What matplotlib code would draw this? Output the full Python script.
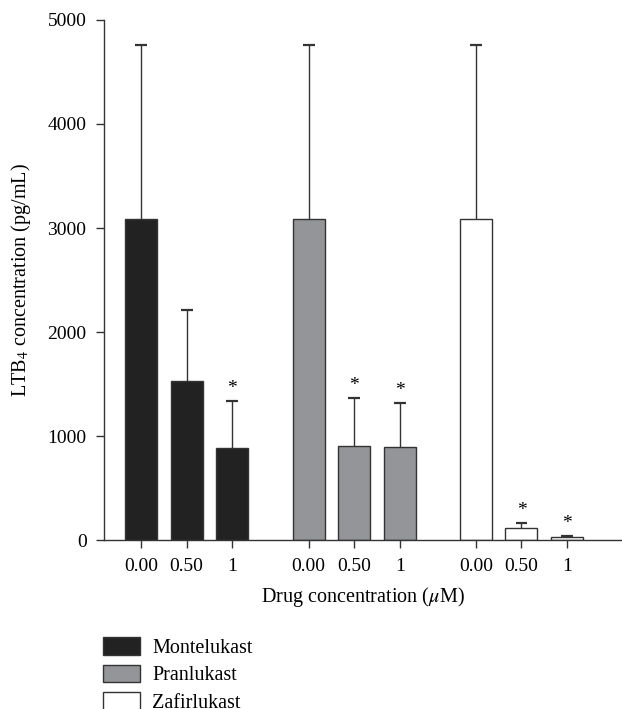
import numpy as np
from matplotlib import pyplot as plt
from matplotlib.patches import Patch

plt.rcParams['font.family'] = ['Liberation Serif', 'DejaVu Serif']
plt.rcParams['mathtext.fontset'] = 'stix'

# donnees
drugs = ['Montelukast', 'Pranlukast', 'Zafirlukast']
doses = ['0.00', '0.50', '1']
montelukast = [3090, 1530, 885]
montelukast_err = [1670, 680, 450]
pranlukast = [3090, 908, 898]
pranlukast_err = [1670, 455, 422]
zafirlukast = [3090, 118, 35]
zafirlukast_err = [1670, 50, 8]
signif = [[False, False, True], [False, True, True], [False, True, True]]

couleurs = ['#222222', '#939598', '#ffffff']
pos_groupes = [0, 3.67, 7.33]
largeur = 0.70
demi_cap = 0.13

fig = plt.figure(figsize=(6.22, 7.09), dpi=100)
ax = fig.add_axes([0.167, 0.238, 0.833, 0.734])

series = [(montelukast, montelukast_err), (pranlukast, pranlukast_err), (zafirlukast, zafirlukast_err)]
xt = []
xl = []
for g, (vals, errs) in enumerate(series):
    x = pos_groupes[g] + np.arange(len(doses))
    vals = np.array(vals)
    haut = vals + np.array(errs)
    ax.bar(x, vals, width=largeur, color=couleurs[g], edgecolor='#333333', linewidth=1.0, zorder=2)
    # barres d'erreur vers le haut seulement
    ax.vlines(x, vals, haut, color='#333333', linewidth=1.0, zorder=1)
    ax.hlines(haut, x - demi_cap, x + demi_cap, color='#333333', linewidth=1.6, zorder=1)
    for i in range(len(doses)):
        if signif[g][i]:
            ax.text(x[i], haut[i] + 40, '*', ha='center', va='bottom', fontsize=14)
    xt += list(x)
    xl += doses

ax.set_xticks(xt)
ax.set_xticklabels(xl)
ax.set_ylim(0, 5000)
ax.set_xlim(-0.81, 10.53)
ax.set_yticks([0, 1000, 2000, 3000, 4000, 5000])
ax.tick_params(axis='both', direction='out', length=6, width=1.0, color='#333333', labelsize=14)
ax.tick_params(axis='x', pad=7)
ax.tick_params(axis='y', pad=6.5)
for s in ['top', 'right']:
    ax.spines[s].set_visible(False)
for s in ['left', 'bottom']:
    ax.spines[s].set_color('#333333')
    ax.spines[s].set_linewidth(1.0)

ax.set_ylabel('LTB$_4$ concentration (pg/mL)', fontsize=14.5, labelpad=10.5)
ax.set_xlabel('Drug concentration ($\\mu$M)', fontsize=14.5, labelpad=7)

handles = [Patch(facecolor=c, edgecolor='#333333', linewidth=1.0) for c in couleurs]
fig.legend(handles, drugs, loc='upper left', bbox_to_anchor=(0.166, 0.101), frameon=False,
           fontsize=14.5, handlelength=1.84, handleheight=0.98, labelspacing=0.32, handletextpad=0.6,
           borderpad=0.0, borderaxespad=0.0)

plt.savefig('out.png')
